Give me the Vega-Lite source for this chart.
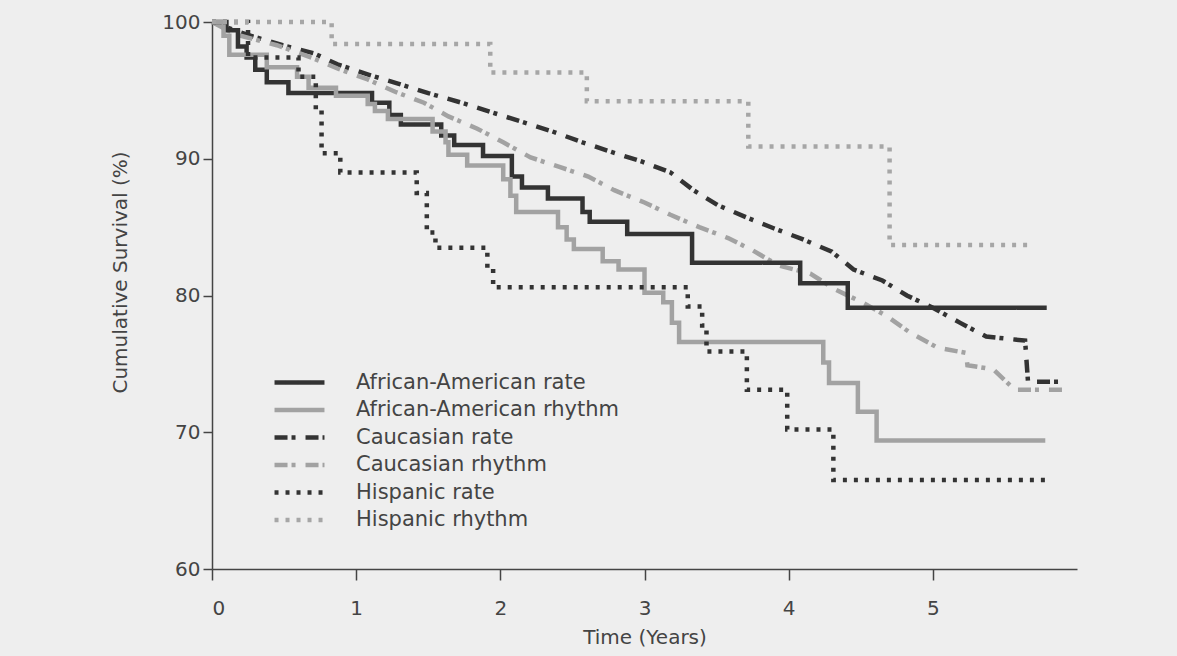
{
  "$schema": "https://vega.github.io/schema/vega-lite/v6.json",
  "width": 865,
  "height": 547,
  "autosize": {"type": "none"},
  "padding": {"left": 212, "top": 22, "right": 100, "bottom": 87},
  "background": "#eeeeee",
  "data": {"values": [
    {"series": "African-American rate", "t": 0, "s": 100},
    {"series": "African-American rate", "t": 0.1, "s": 99.4},
    {"series": "African-American rate", "t": 0.18, "s": 98.2},
    {"series": "African-American rate", "t": 0.24, "s": 97.4},
    {"series": "African-American rate", "t": 0.3, "s": 96.5},
    {"series": "African-American rate", "t": 0.38, "s": 95.6},
    {"series": "African-American rate", "t": 0.53, "s": 94.8},
    {"series": "African-American rate", "t": 1.11, "s": 94.1},
    {"series": "African-American rate", "t": 1.23, "s": 93.2},
    {"series": "African-American rate", "t": 1.31, "s": 92.5},
    {"series": "African-American rate", "t": 1.59, "s": 91.7},
    {"series": "African-American rate", "t": 1.68, "s": 91.0},
    {"series": "African-American rate", "t": 1.88, "s": 90.2},
    {"series": "African-American rate", "t": 2.08, "s": 88.7},
    {"series": "African-American rate", "t": 2.15, "s": 87.9},
    {"series": "African-American rate", "t": 2.33, "s": 87.1},
    {"series": "African-American rate", "t": 2.57, "s": 86.1},
    {"series": "African-American rate", "t": 2.62, "s": 85.4},
    {"series": "African-American rate", "t": 2.88, "s": 84.5},
    {"series": "African-American rate", "t": 3.33, "s": 82.4},
    {"series": "African-American rate", "t": 4.08, "s": 80.9},
    {"series": "African-American rate", "t": 4.41, "s": 79.1},
    {"series": "African-American rate", "t": 5.79, "s": 79.1},
    {"series": "African-American rhythm", "t": 0, "s": 100},
    {"series": "African-American rhythm", "t": 0.08, "s": 99.0},
    {"series": "African-American rhythm", "t": 0.12, "s": 97.6},
    {"series": "African-American rhythm", "t": 0.38, "s": 96.7},
    {"series": "African-American rhythm", "t": 0.59, "s": 96.0},
    {"series": "African-American rhythm", "t": 0.67, "s": 95.2},
    {"series": "African-American rhythm", "t": 0.86, "s": 94.6},
    {"series": "African-American rhythm", "t": 1.08, "s": 94.0},
    {"series": "African-American rhythm", "t": 1.13, "s": 93.5},
    {"series": "African-American rhythm", "t": 1.22, "s": 92.9},
    {"series": "African-American rhythm", "t": 1.53, "s": 92.0},
    {"series": "African-American rhythm", "t": 1.62, "s": 91.2},
    {"series": "African-American rhythm", "t": 1.64, "s": 90.3},
    {"series": "African-American rhythm", "t": 1.77, "s": 89.5},
    {"series": "African-American rhythm", "t": 2.02, "s": 88.5},
    {"series": "African-American rhythm", "t": 2.07, "s": 87.3},
    {"series": "African-American rhythm", "t": 2.11, "s": 86.1},
    {"series": "African-American rhythm", "t": 2.4, "s": 85.0},
    {"series": "African-American rhythm", "t": 2.46, "s": 84.1},
    {"series": "African-American rhythm", "t": 2.51, "s": 83.4},
    {"series": "African-American rhythm", "t": 2.71, "s": 82.5},
    {"series": "African-American rhythm", "t": 2.82, "s": 81.9},
    {"series": "African-American rhythm", "t": 3.0, "s": 80.2},
    {"series": "African-American rhythm", "t": 3.13, "s": 79.5},
    {"series": "African-American rhythm", "t": 3.19, "s": 78.0},
    {"series": "African-American rhythm", "t": 3.24, "s": 76.6},
    {"series": "African-American rhythm", "t": 4.24, "s": 75.1},
    {"series": "African-American rhythm", "t": 4.28, "s": 73.6},
    {"series": "African-American rhythm", "t": 4.48, "s": 71.5},
    {"series": "African-American rhythm", "t": 4.61, "s": 69.4},
    {"series": "African-American rhythm", "t": 5.78, "s": 69.4},
    {"series": "Caucasian rate", "t": 0, "s": 100},
    {"series": "Caucasian rate", "t": 0.25, "s": 99.05},
    {"series": "Caucasian rate", "t": 0.49, "s": 98.3},
    {"series": "Caucasian rate", "t": 0.71, "s": 97.7},
    {"series": "Caucasian rate", "t": 0.87, "s": 96.9},
    {"series": "Caucasian rate", "t": 1.1, "s": 96.1},
    {"series": "Caucasian rate", "t": 1.29, "s": 95.5},
    {"series": "Caucasian rate", "t": 1.5, "s": 94.8},
    {"series": "Caucasian rate", "t": 1.73, "s": 94.1},
    {"series": "Caucasian rate", "t": 1.94, "s": 93.4},
    {"series": "Caucasian rate", "t": 2.15, "s": 92.7},
    {"series": "Caucasian rate", "t": 2.36, "s": 92.0},
    {"series": "Caucasian rate", "t": 2.57, "s": 91.2},
    {"series": "Caucasian rate", "t": 2.77, "s": 90.5},
    {"series": "Caucasian rate", "t": 2.98, "s": 89.8},
    {"series": "Caucasian rate", "t": 3.18, "s": 89.0},
    {"series": "Caucasian rate", "t": 3.34, "s": 87.7},
    {"series": "Caucasian rate", "t": 3.51, "s": 86.6},
    {"series": "Caucasian rate", "t": 3.71, "s": 85.7},
    {"series": "Caucasian rate", "t": 3.9, "s": 84.9},
    {"series": "Caucasian rate", "t": 4.1, "s": 84.1},
    {"series": "Caucasian rate", "t": 4.3, "s": 83.2},
    {"series": "Caucasian rate", "t": 4.45, "s": 81.9},
    {"series": "Caucasian rate", "t": 4.65, "s": 81.1},
    {"series": "Caucasian rate", "t": 4.82, "s": 80.0},
    {"series": "Caucasian rate", "t": 5.0, "s": 79.1},
    {"series": "Caucasian rate", "t": 5.19, "s": 78.0},
    {"series": "Caucasian rate", "t": 5.37, "s": 77.0},
    {"series": "Caucasian rate", "t": 5.64, "s": 76.7},
    {"series": "Caucasian rate", "t": 5.66, "s": 73.7},
    {"series": "Caucasian rate", "t": 5.9, "s": 73.7},
    {"series": "Caucasian rhythm", "t": 0, "s": 100},
    {"series": "Caucasian rhythm", "t": 0.16, "s": 99.1},
    {"series": "Caucasian rhythm", "t": 0.45, "s": 98.3},
    {"series": "Caucasian rhythm", "t": 0.69, "s": 97.4},
    {"series": "Caucasian rhythm", "t": 0.87, "s": 96.6},
    {"series": "Caucasian rhythm", "t": 1.08, "s": 95.8},
    {"series": "Caucasian rhythm", "t": 1.27, "s": 94.9},
    {"series": "Caucasian rhythm", "t": 1.47, "s": 94.1},
    {"series": "Caucasian rhythm", "t": 1.64, "s": 93.1},
    {"series": "Caucasian rhythm", "t": 1.84, "s": 92.2},
    {"series": "Caucasian rhythm", "t": 2.02, "s": 91.2},
    {"series": "Caucasian rhythm", "t": 2.21, "s": 90.1},
    {"series": "Caucasian rhythm", "t": 2.41, "s": 89.4},
    {"series": "Caucasian rhythm", "t": 2.61, "s": 88.7},
    {"series": "Caucasian rhythm", "t": 2.79, "s": 87.7},
    {"series": "Caucasian rhythm", "t": 3.0, "s": 86.8},
    {"series": "Caucasian rhythm", "t": 3.18, "s": 85.9},
    {"series": "Caucasian rhythm", "t": 3.38, "s": 85.0},
    {"series": "Caucasian rhythm", "t": 3.58, "s": 84.2},
    {"series": "Caucasian rhythm", "t": 3.75, "s": 83.3},
    {"series": "Caucasian rhythm", "t": 3.93, "s": 82.2},
    {"series": "Caucasian rhythm", "t": 4.15, "s": 81.6},
    {"series": "Caucasian rhythm", "t": 4.33, "s": 80.4},
    {"series": "Caucasian rhythm", "t": 4.51, "s": 79.5},
    {"series": "Caucasian rhythm", "t": 4.68, "s": 78.5},
    {"series": "Caucasian rhythm", "t": 4.84, "s": 77.3},
    {"series": "Caucasian rhythm", "t": 5.03, "s": 76.2},
    {"series": "Caucasian rhythm", "t": 5.23, "s": 75.8},
    {"series": "Caucasian rhythm", "t": 5.24, "s": 74.9},
    {"series": "Caucasian rhythm", "t": 5.42, "s": 74.6},
    {"series": "Caucasian rhythm", "t": 5.57, "s": 73.1},
    {"series": "Caucasian rhythm", "t": 5.9, "s": 73.1},
    {"series": "Hispanic rate", "t": 0, "s": 100},
    {"series": "Hispanic rate", "t": 0.25, "s": 97.4},
    {"series": "Hispanic rate", "t": 0.6, "s": 96.0},
    {"series": "Hispanic rate", "t": 0.72, "s": 93.6},
    {"series": "Hispanic rate", "t": 0.76, "s": 90.4},
    {"series": "Hispanic rate", "t": 0.89, "s": 89.0},
    {"series": "Hispanic rate", "t": 1.42, "s": 87.5},
    {"series": "Hispanic rate", "t": 1.49, "s": 84.6},
    {"series": "Hispanic rate", "t": 1.55, "s": 83.5},
    {"series": "Hispanic rate", "t": 1.91, "s": 82.0},
    {"series": "Hispanic rate", "t": 1.95, "s": 80.6},
    {"series": "Hispanic rate", "t": 3.3, "s": 79.2},
    {"series": "Hispanic rate", "t": 3.4, "s": 77.8},
    {"series": "Hispanic rate", "t": 3.43, "s": 75.9},
    {"series": "Hispanic rate", "t": 3.71, "s": 73.1},
    {"series": "Hispanic rate", "t": 3.99, "s": 70.2},
    {"series": "Hispanic rate", "t": 4.31, "s": 66.5},
    {"series": "Hispanic rate", "t": 5.78, "s": 66.5},
    {"series": "Hispanic rhythm", "t": 0, "s": 100},
    {"series": "Hispanic rhythm", "t": 0.83, "s": 98.4},
    {"series": "Hispanic rhythm", "t": 1.93, "s": 96.3},
    {"series": "Hispanic rhythm", "t": 2.6, "s": 94.2},
    {"series": "Hispanic rhythm", "t": 3.72, "s": 90.9},
    {"series": "Hispanic rhythm", "t": 4.7, "s": 83.7},
    {"series": "Hispanic rhythm", "t": 5.67, "s": 83.7}
  ]},
  "encoding": {
    "x": {"field": "t", "type": "quantitative",
      "scale": {"domain": [0, 6], "nice": false},
      "axis": {"values": [0, 1, 2, 3, 4, 5], "tickSize": 11, "labelPadding": 18, "title": "Time (Years)", "titlePadding": 9}},
    "y": {"field": "s", "type": "quantitative",
      "scale": {"domain": [60, 100], "zero": false, "nice": false},
      "axis": {"values": [60, 70, 80, 90, 100], "tickSize": 9, "labelPadding": 3, "title": "Cumulative Survival (%)", "titlePadding": 31, "titleY": 250}},
    "color": {"field": "series", "type": "nominal", "title": null,
      "scale": {"domain": ["African-American rate", "African-American rhythm", "Caucasian rate", "Caucasian rhythm", "Hispanic rate", "Hispanic rhythm"],
        "range": ["#333333", "#a2a2a2", "#333333", "#a2a2a2", "#333333", "#a6a6a6"]}},
    "strokeDash": {"field": "series", "type": "nominal", "title": null,
      "scale": {"domain": ["African-American rate", "African-American rhythm", "Caucasian rate", "Caucasian rhythm", "Hispanic rate", "Hispanic rhythm"],
        "range": [[1, 0], [1, 0], [13, 4, 4, 10], [13, 4, 4, 10], [4, 7], [4, 7]]}}
  },
  "layer": [
    {"transform": [{"filter": "indexof(datum.series, 'Caucasian') >= 0"}],
     "mark": {"type": "line", "interpolate": "linear", "strokeWidth": 4.5}},
    {"transform": [{"filter": "indexof(datum.series, 'Caucasian') < 0"}],
     "mark": {"type": "line", "interpolate": "step-after", "strokeWidth": 4.5}}
  ],
  "config": {
    "view": {"stroke": null},
    "font": "DejaVu Sans",
    "axis": {"grid": false, "domainColor": "#444444", "tickColor": "#444444", "labelColor": "#444444", "titleColor": "#444444",
      "labelFontSize": 20, "titleFontSize": 20, "titleFontWeight": "normal", "domainWidth": 1.5, "tickWidth": 1.5},
    "legend": {"orient": "none", "legendX": 77, "legendY": 350, "padding": 0, "symbolType": "M-4,0L4,0", "symbolSize": 156,
      "symbolStrokeWidth": 4.5, "labelFontSize": 21, "labelOffset": 46, "labelColor": "#444444", "rowPadding": 5.5, "labelLimit": 400}
  }
}
